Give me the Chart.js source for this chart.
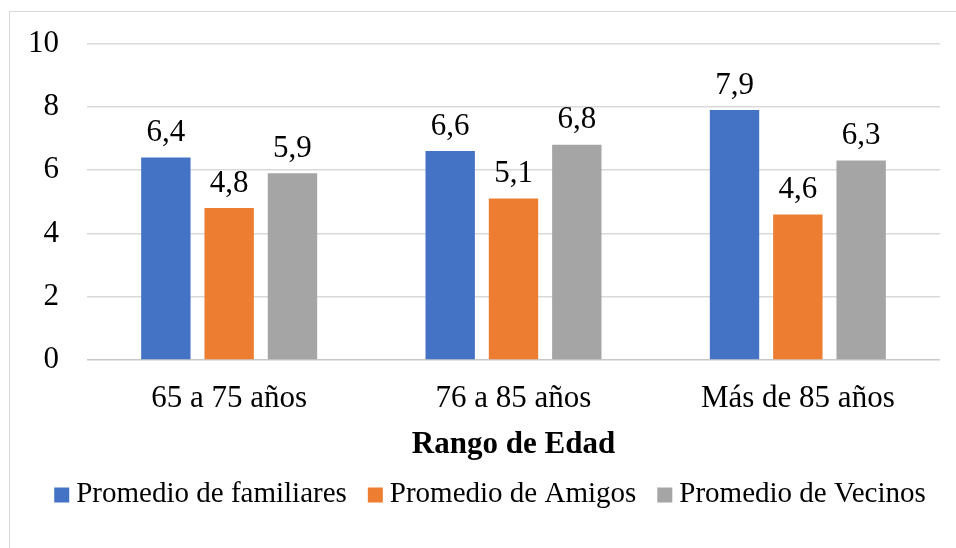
<!DOCTYPE html>
<html>
<head>
<meta charset="utf-8">
<script src="https://cdn.jsdelivr.net/npm/chart.js@4"></script>
<style>
  html, body { margin: 0; padding: 0; background: #fff; overflow: hidden; }
  #wrap { position: relative; width: 956px; height: 548px; }
  #frame { position: absolute; left: 9px; top: 11px; width: 980px; height: 580px; border: 1.5px solid #d9d9d9; }
  canvas { position: absolute; left: 0; top: 0; }
</style>
</head>
<body>
<div id="wrap">
  <div id="frame"></div>
  <canvas id="chart" width="956" height="548"></canvas>
</div>
<script>
const categories = ["65 a 75 años", "76 a 85 años", "Más de 85 años"];
const familiares = [6.4, 6.6, 7.9];
const amigos = [4.8, 5.1, 4.6];
const vecinos = [5.9, 6.8, 6.3];
const yTicks = [0, 2, 4, 6, 8, 10];

const FONT = '"Liberation Serif", "Times New Roman", serif';

// draws the value above every bar, with a decimal comma
const valueLabels = {
  id: "valueLabels",
  afterDatasetsDraw(chart) {
    const ctx = chart.ctx;
    ctx.save();
    ctx.font = "31px " + FONT;
    ctx.fillStyle = "#000";
    ctx.textAlign = "center";
    ctx.textBaseline = "bottom";
    chart.data.datasets.forEach((ds, i) => {
      chart.getDatasetMeta(i).data.forEach((bar, j) => {
        const txt = ds.data[j].toFixed(1).replace(".", ",");
        ctx.fillText(txt, bar.x, bar.y - 9);
      });
    });
    ctx.restore();
  }
};

// legend like the Office one: small square, tight gap to the text
const officeLegend = {
  id: "officeLegend",
  afterDraw(chart) {
    const ctx = chart.ctx;
    const box = 15, gap = 7, spacing = 21, y = 494;
    ctx.save();
    ctx.font = "29px " + FONT;
    ctx.textBaseline = "middle";
    ctx.textAlign = "left";
    const items = chart.data.datasets.map(ds => ({
      text: ds.label, color: ds.backgroundColor, w: ctx.measureText(ds.label).width
    }));
    const total = items.reduce((s, it) => s + box + gap + it.w, 0) + spacing * (items.length - 1);
    let x = 490 - total / 2;
    items.forEach(it => {
      ctx.fillStyle = it.color;
      ctx.fillRect(x, y - box / 2 + 1, box, box);
      ctx.fillStyle = "#000";
      ctx.fillText(it.text, x + box + gap, y);
      x += box + gap + it.w + spacing;
    });
    ctx.restore();
  }
};

new Chart(document.getElementById("chart"), {
  type: "bar",
  data: {
    labels: categories,
    datasets: [
      { label: "Promedio de familiares", data: familiares, backgroundColor: "#4472C4" },
      { label: "Promedio de Amigos", data: amigos, backgroundColor: "#ED7D31" },
      { label: "Promedio de Vecinos", data: vecinos, backgroundColor: "#A5A5A5" }
    ]
  },
  options: {
    responsive: false,
    animation: false,
    categoryPercentage: 0.668,
    barPercentage: 0.78,
    layout: { padding: { left: 0, right: 16, top: 20, bottom: 77 } },
    plugins: {
      tooltip: { enabled: false },
      legend: { display: false }
    },
    scales: {
      x: {
        grid: { display: false },
        border: { display: false },
        ticks: { color: "#000", padding: 15, font: { family: FONT, size: 31, lineHeight: 1 } },
        title: {
          display: true,
          text: "Rango de Edad",
          color: "#000",
          padding: { top: 0, bottom: 11 },
          font: { family: FONT, size: 31, weight: "bold", lineHeight: 1 }
        }
      },
      y: {
        min: 0,
        max: 10,
        afterBuildTicks(axis) { axis.ticks = yTicks.map(v => ({ value: v })); },
        border: { display: false },
        grid: {
          drawTicks: false,
          lineWidth: 1.5,
          color: ctx => ctx.tick.value === 0 ? "#c8c8c8" : "#d9d9d9"
        },
        ticks: { color: "#000", padding: 28, font: { family: FONT, size: 31, lineHeight: 1 } }
      }
    }
  },
  plugins: [valueLabels, officeLegend]
});
</script>
</body>
</html>
